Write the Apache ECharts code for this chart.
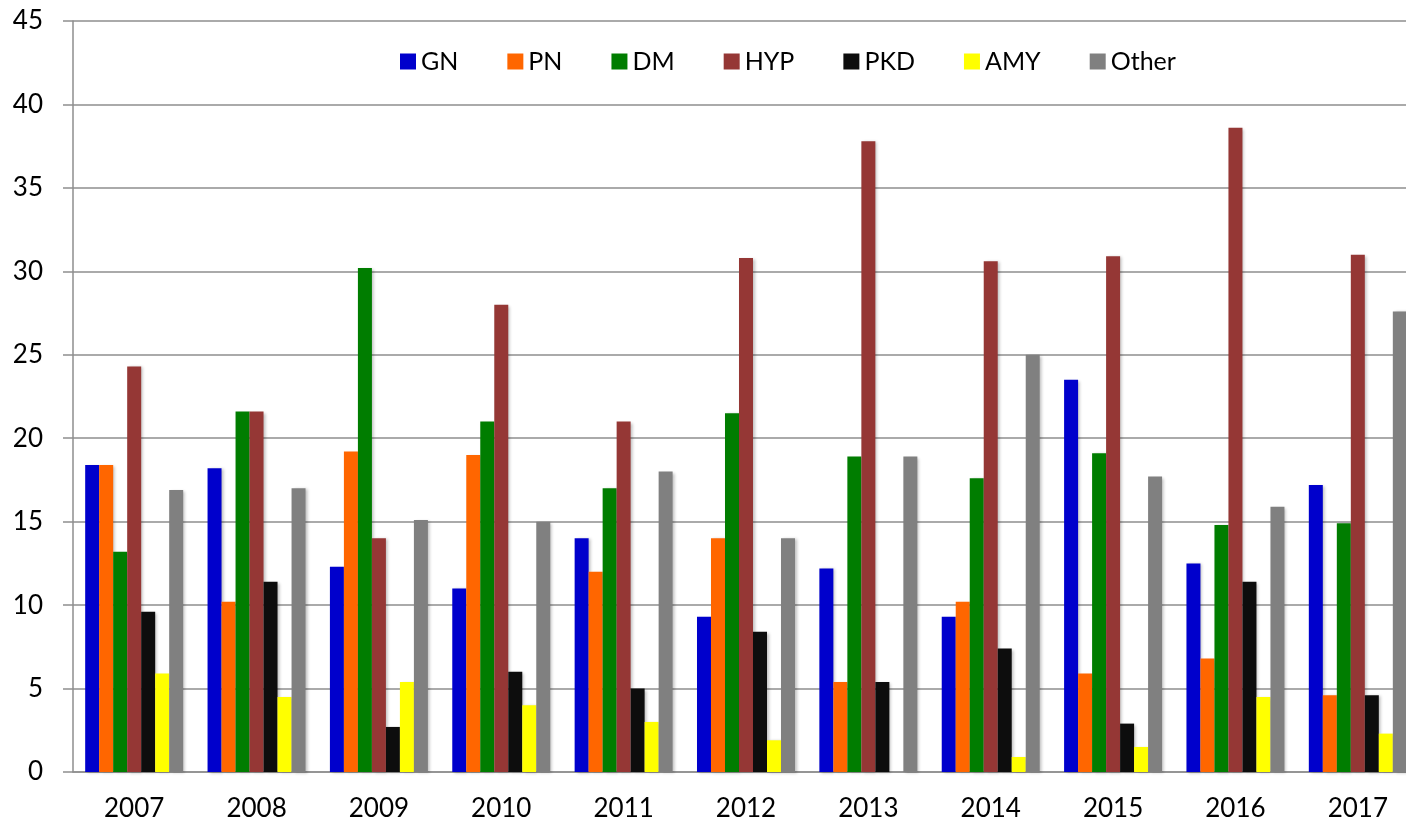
<!DOCTYPE html>
<html>
<head>
<meta charset="utf-8">
<script src="https://cdn.jsdelivr.net/npm/echarts@6/dist/echarts.min.js"></script>
<style>
  html, body { margin: 0; padding: 0; background: #fff; overflow: hidden; }
  /* plot runs a bit past the right edge of the window, like the original */
  #chart { width: 1419px; height: 829px; }
</style>
</head>
<body>
<div id="chart"></div>
<script>
// data
const years = ['2007', '2008', '2009', '2010', '2011', '2012', '2013', '2014', '2015', '2016', '2017']
const gn    = [18.4, 18.2, 12.3, 11.0, 14.0, 9.3, 12.2, 9.3, 23.5, 12.5, 17.2]
const pn    = [18.4, 10.2, 19.2, 19.0, 12.0, 14.0, 5.4, 10.2, 5.9, 6.8, 4.6]
const dm    = [13.2, 21.6, 30.2, 21.0, 17.0, 21.5, 18.9, 17.6, 19.1, 14.8, 14.9]
const hyp   = [24.3, 21.6, 14.0, 28.0, 21.0, 30.8, 37.8, 30.6, 30.9, 38.6, 31.0]
const pkd   = [9.6, 11.4, 2.7, 6.0, 5.0, 8.4, 5.4, 7.4, 2.9, 11.4, 4.6]
const amy   = [5.9, 4.5, 5.4, 4.0, 3.0, 1.9, 0, 0.9, 1.5, 4.5, 2.3]
const other = [16.9, 17.0, 15.1, 15.0, 18.0, 14.0, 18.9, 25.0, 17.7, 15.9, 27.6]

const seriesDefs = [
  { name: 'GN', data: gn, color: '#0000cc' },
  { name: 'PN', data: pn, color: '#ff6600' },
  { name: 'DM', data: dm, color: '#007d00' },
  { name: 'HYP', data: hyp, color: '#953735' },
  { name: 'PKD', data: pkd, color: '#0d0d0d' },
  { name: 'AMY', data: amy, color: '#ffff00' },
  { name: 'Other', data: other, color: '#808080' }
]

const font = 'Lato, "Open Sans", sans-serif'
const chart = echarts.init(document.getElementById('chart'))
chart.setOption({
  animation: false,
  textStyle: { fontFamily: font },
  grid: {
    left: 73,
    right: 0,
    top: 21,
    bottom: 57
  },
  legend: {
    left: 395,
    top: 44,
    itemWidth: 16,
    itemHeight: 16,
    itemGap: 49,
    icon: 'rect',
    textStyle: { fontSize: 25, color: '#000', fontFamily: font },
    data: seriesDefs.map(s => s.name)
  },
  xAxis: {
    type: 'category',
    data: years,
    axisLine: { lineStyle: { color: '#8e8e8e', width: 1.5 } },
    axisTick: { length: 11, lineStyle: { color: '#8e8e8e', width: 1.5 } },
    axisLabel: { fontSize: 26, color: '#000', margin: 24, fontFamily: font }
  },
  yAxis: {
    type: 'value',
    min: 0,
    max: 45,
    interval: 5,
    axisLine: { show: true, lineStyle: { color: '#8e8e8e', width: 1.5 } },
    axisTick: { show: true, length: 10, lineStyle: { color: '#8e8e8e', width: 1.5 } },
    axisLabel: { fontSize: 26, color: '#000', margin: 30, fontFamily: font },
    splitLine: { lineStyle: { color: '#8e8e8e', width: 1.5 } }
  },
  series: seriesDefs.map(s => ({
    name: s.name,
    type: 'bar',
    data: s.data,
    barWidth: 14,
    barGap: '0%',
    itemStyle: {
      color: s.color,
      shadowBlur: 3,
      shadowOffsetX: 2,
      shadowOffsetY: 1,
      shadowColor: 'rgba(0,0,0,0.25)'
    }
  }))
})
</script>
</body>
</html>
